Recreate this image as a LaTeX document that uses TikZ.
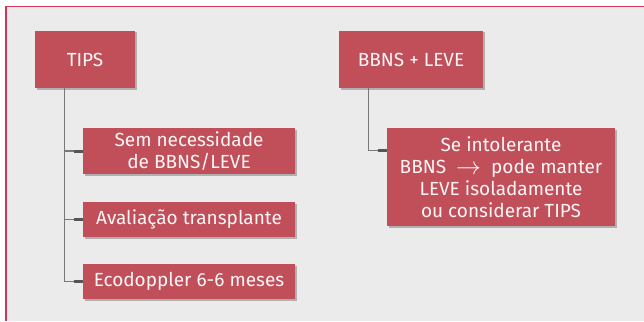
\documentclass[tikz,border=0pt]{standalone}
\usepackage{fontspec}
\setmainfont{Fira Sans}
\usetikzlibrary{shadows}
\definecolor{boxred}{RGB}{192,79,90}
\definecolor{bggray}{RGB}{235,235,235}
\definecolor{framered}{RGB}{205,55,90}
\definecolor{linegray}{RGB}{120,120,120}
\definecolor{stubgray}{RGB}{85,85,85}
\newcommand{\bigarrow}{\raisebox{-1.5pt}{\fontsize{26}{22}\selectfont$\rightarrow$}}
\tikzset{
  redbox/.style={fill=boxred, text=boxred!5!white, inner sep=0pt, align=center,
    font=\fontsize{19}{22}\selectfont,
    drop shadow={shadow xshift=1.5pt, shadow yshift=-1.5pt, opacity=0.25, fill=black}},
  conn/.style={draw=linegray, line width=1.2pt},
  stub/.style={draw=stubgray, line width=3pt}
}
\begin{document}
\begin{tikzpicture}[x=1pt,y=-1pt]
\useasboundingbox (0,0) rectangle (644,321);
\fill[white] (0,0) rectangle (644,321);
\fill[bggray] (6,6.5) rectangle (644,321);
\draw[framered, line width=1.4pt] (6,321) -- (6,6.5) -- (644,6.5);

\node[redbox, minimum width=100pt, minimum height=57pt] (tips) at (85,59.5) {TIPS};
\node[redbox, minimum width=212pt, minimum height=46pt] (sem) at (189,151) {Sem necessidade\\de BBNS/LEVE};
\node[redbox, minimum width=212pt, minimum height=35pt] (aval) at (189,219.5) {Avaliação transplante};
\node[redbox, minimum width=212pt, minimum height=35pt] (eco) at (189,281.5) {Ecodoppler 6-6 meses};
\node[redbox, minimum width=144pt, minimum height=57pt] (bbns) at (411,59.5) {BBNS + LEVE};
\node[redbox, minimum width=228pt, minimum height=98pt] (se) at (501,177) {Se intolerante\\BBNS ~\bigarrow~ pode manter\\LEVE isoladamente\\ou considerar TIPS};

\draw[conn] ([xshift=30pt]tips.south west) |- (eco.west);
\draw[conn] ([xshift=30pt]tips.south west) |- (sem.west);
\draw[conn] ([xshift=30pt]tips.south west) |- (aval.west);
\draw[stub] ([xshift=-9pt]sem.west) -- (sem.west);
\draw[stub] ([xshift=-9pt]aval.west) -- (aval.west);
\draw[stub] ([xshift=-9pt]eco.west) -- (eco.west);

\coordinate (sejoin) at ([yshift=-23pt]se.north west);
\draw[conn] ([xshift=30pt]bbns.south west) |- (sejoin);
\draw[stub] ([xshift=-9pt]sejoin) -- (sejoin);
\end{tikzpicture}
\end{document}
